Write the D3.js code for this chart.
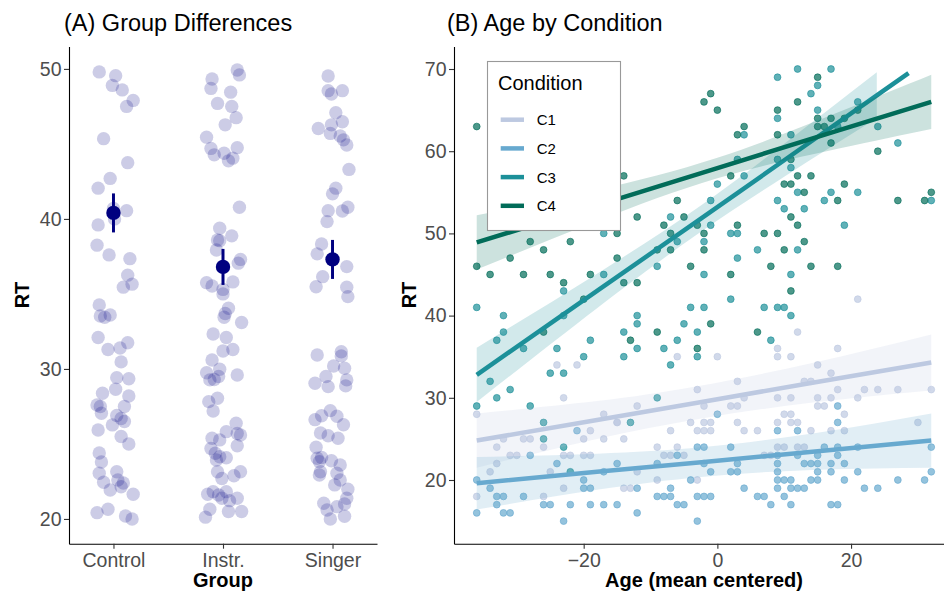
<!DOCTYPE html>
<html><head><meta charset="utf-8">
<script src="https://cdn.jsdelivr.net/npm/d3@7"></script>
<style>body{margin:0;background:#fff} text{font-family:"Liberation Sans",Arial,sans-serif}</style>
</head><body><svg id="c" width="944" height="596" xmlns="http://www.w3.org/2000/svg"></svg>
<script>
// ---------- Panel A data ----------
const groups = ["Control","Instr.","Singer"];
const jitControl = [-0.13,0.02,-0.01,0.08,0.18,0.12,-0.09,0.13,-0.03,-0.14,0.12,0.0,0.01,-0.14,-0.15,-0.04,0.15,0.13,0.17,0.09,-0.13,-0.12,-0.03,-0.08,-0.14,-0.05,0.06,0.13,0.07,0.03,0.14,0.02,0.14,-0.10,-0.15,-0.12,-0.11,0.10,0.03,0.07,0.10,-0.01,-0.14,0.07,0.14,-0.13,-0.11,-0.13,0.03,-0.09,-0.03,0.04,0.07,0.09,0.18,-0.15,-0.05,0.11,0.17];
const rtControl = [49.8,49.55,48.9,48.6,47.9,47.5,45.35,43.75,42.7,42.05,40.55,40.7,40.0,39.6,38.25,37.6,37.35,36.25,35.65,35.45,34.27,33.53,33.6,33.45,32.1,31.3,31.4,31.75,30.47,29.42,29.35,28.65,28.2,28.38,27.6,27.5,27.05,27.5,26.9,26.7,26.5,26.27,25.93,25.5,25.0,24.4,23.8,23.05,23.15,22.45,21.93,22.6,22.15,22.4,21.65,20.42,20.65,20.2,20.0];
const jitInstr = [0.13,0.15,-0.10,-0.11,0.07,-0.05,0.08,0.12,0.02,-0.15,-0.11,-0.08,0.01,0.13,0.05,0.09,0.15,-0.03,0.08,-0.05,-0.03,-0.06,0.16,0.14,-0.15,-0.10,0.09,0.0,0.0,0.05,0.02,0.01,0.17,-0.09,0.03,0.0,0.09,-0.10,-0.03,-0.15,-0.12,-0.08,-0.04,0.13,-0.13,-0.05,-0.09,0.12,0.03,0.13,0.16,-0.10,-0.03,-0.11,0.13,-0.07,-0.03,0.03,-0.06,-0.05,-0.01,0.10,0.16,-0.14,-0.09,-0.04,0.03,-0.01,0.06,0.13,-0.12,-0.16,0.05,0.17];
const rtInstr = [49.93,49.6,49.33,48.7,48.45,47.7,47.5,46.75,46.27,45.45,44.7,44.27,44.38,44.75,43.87,44.05,40.78,39.38,38.87,38.6,38.55,37.93,37.3,37.05,35.75,35.53,35.8,35.3,35.0,34.05,33.7,33.45,33.1,32.33,32.1,31.2,31.3,30.6,29.98,29.75,29.27,29.3,29.5,29.6,27.82,28.05,27.2,26.38,25.82,25.7,25.6,25.38,25.27,24.7,24.88,24.38,24.15,24.08,23.93,23.15,22.7,22.88,23.15,21.65,21.82,21.6,21.82,21.38,21.22,21.38,20.65,20.12,20.5,20.5];
const jitSinger = [-0.04,-0.04,0.09,-0.01,0.03,0.09,-0.13,-0.01,-0.02,0.07,0.10,0.13,0.15,0.03,0.0,0.14,0.09,-0.04,-0.05,-0.10,-0.14,0.13,-0.09,-0.15,0.13,0.14,-0.14,0.08,0.08,0.01,0.11,-0.06,0.13,-0.16,-0.04,0.12,-0.16,-0.10,-0.02,0.04,0.10,-0.11,-0.04,0.05,-0.15,-0.14,-0.10,-0.12,-0.01,0.07,-0.11,-0.12,0.04,0.07,0.02,0.14,0.13,0.11,-0.08,-0.05,0.04,-0.02,0.11];
const rtSinger = [49.53,48.55,48.55,48.33,47.08,46.48,46.03,46.27,45.7,45.53,45.27,44.93,43.3,42.05,41.67,40.78,40.53,40.55,39.82,38.33,37.67,36.82,36.15,35.48,35.45,34.82,30.93,31.15,30.87,30.2,30.05,29.5,29.27,29.05,28.82,28.87,26.62,26.88,27.22,26.85,26.28,25.73,25.55,25.38,24.78,24.05,24.1,23.82,23.88,23.6,23.15,22.93,23.05,22.6,22.27,21.98,21.38,21.0,21.05,20.6,20.82,20.0,20.18];
const groupMean = [40.4, 36.8, 37.3];
const groupLow  = [39.1, 35.6, 36.0];
const groupHigh = [41.7, 38.0, 38.6];
const yTicksA = [20, 30, 40, 50];

// ---------- Panel B data ----------
const conditions = ["C1","C2","C3","C4"];
const condColors = ["#bdc9e1","#67a9cf","#1c9099","#016c59"];
const c1Age = [-24,-21,-23,-36,-17,-15,-19,-20,-17,-32,-29,-28,-33,-26,-31,-30,-23,-22,-20,-19,-34,-33,-25,-36,-26,-23,
 -6,0,9,9,3,-3,-2,2,3,4,9,-12,-15,-2,-1,-4,3,-2,-3,-1,4,6,9,-14,-7,-9,-8,-7,-6,-5,7,8,-9,-12,-3,-14,-13,
 21,12,11,18,15,17,13,14,18,22,24,27,32,11,15,17,21,16,15,10,11,19,11,12,14,17,19,30,9,10,12,13];
const c1RT = [34,34,30,28,28,27,26,25,25,25,25,25,24,24,23,23,23,23,23,23,21,22,21,18,18,19,
 35,35,36,35,32,31,29,29,29,30,30,29,27,27,27,27,27,26,26,26,26,26,27,25,26,24,23,23,24,23,23,23,20,21,20,19,19,
 42,38,35,36,34,33,32,32,31,31,31,31,31,30,30,30,30,29,29,28,28,28,27,27,26,26,26,27,24,24,24,24];
const c2Age = [-36,-28,-24,-21,-20,-20,-19,-15,-17,-34,-33,-32,-33,-32,-31,-36,-29,-26,-25,-22,-19,-17,-15,-23,
 0,-9,-6,-3,-2,2,-2,-1,2,3,3,-4,9,9,9,9,9,4,-12,-7,-9,-8,-7,-6,-5,-3,-2,-1,6,7,8,-12,-3,
 18,18,12,16,18,21,32,9,12,15,18,15,13,14,17,19,17,15,21,32,10,11,14,15,19,27,31,11,12,13,22,24,10,11,17,18];
const c2RT = [20,23,22,26,20,19,19,22,21,19,18,18,17,16,16,16,18,17,17,17,17,17,17,15,
 28,22,23,24,24,24,22,21,21,21,22,20,26,22,21,20,19,19,19,19,18,18,18,17,17,18,18,18,18,18,17,16,15,
 29,27,26,24,24,24,24,23,23,23,23,22,22,22,22,22,21,21,21,21,20,20,20,20,20,20,20,19,19,19,19,19,18,17,17,17];
const c3Age = [-17,-17,-23, 9,9,4,3,9,0,4,-1,9,-7,-1,2,3,-6,-2,6,3,-9,-2,2,
 12,17,15,14,15,21,18,24,11,27,11,12,17,21,16,32,10,13,19,12,11,
 -36,-32,-32,-33,-29,-23,-24,-19,-20,-25,-23,-34,-31,-33,-36,-28,-26,-26,-23,-22,
 -12,-12,-4,-2,7,9,-14,-5,-6,-3,8,-12,-8,-3,-14,-7,-9,-13, 10,11];
const c3RT = [50,45,43, 69,64,62,59,59,56,57,54,54,52,51,50,50,49,49,48,47,46,45,42,
 70,70,68,67,65,66,63,63,62,61,58,55,55,55,54,54,53,53,51,48,45,
 41,40,38,37,36,40,36,37,35,33,33,32,31,30,29,29,27,25,24,21,
 40,39,41,41,41,41,38,39,37,38,37,36,36,35,35,34,30,27, 41,40];
const c4Age = [-36,-15,-28,-22,-31,-26,-15,-36,-34,-29,-25,-23,-19,-20,
 -1,-2,0,9,3,4,9,-14,2,-6,-12,-5,-3,-8,3,-2,7,9,-7,-9,-7,-2,-4,2,8,-14,-12,
 15,12,21,15,17,19,15,16,17,24,11,12,14,10,11,19,13,18,27,31,32,11,12,13,10,14,18,11,
 -26,-13,-9,-1,6,-3];
const c4RT = [63,50,49,49,47,48,47,46,45,45,45,44,45,42,
 67,66,65,65,62,63,62,57,57,54,52,52,51,51,51,50,50,50,50,48,48,48,46,45,46,44,44,
 69,66,65,64,64,64,63,63,61,60,59,57,57,56,56,56,55,54,54,54,55,52,51,49,48,46,46,43,
 38,37,38,39,38,36];

// fitted lm lines and 95% bands
const c1FitX = [-36,-18,-3,14,32];   const c1Fit = [24.8,27.3,29.4,31.8,34.3];
const c1Low = [21.5,25.0,27.4,29.4,30.9]; const c1High = [28.1,29.6,31.4,34.2,37.7];
const c2FitX = [-36,-18,-2,15,32];   const c2Fit = [19.6,21.0,22.2,23.5,24.8];
const c2Low = [16.4,18.8,20.4,21.25,21.5]; const c2High = [22.8,23.2,24.0,25.75,28.1];
const c3FitX = [-36,-18,-3,10,23.85,28.6]; const c3Fit = [32.8,43.0,51.5,58.9,66.8,69.5];
const c3Low = [29.5,40.9,49.9,56.9,64.0,null]; const c3High = [36.1,45.1,53.1,60.9,69.6,null];
const c4FitX = [-36,-18,0,18,32];    const c4Fit = [48.9,53.4,57.95,62.5,66.0];
const c4Low = [45.6,51.5,56.7,60.3,62.7]; const c4High = [52.2,55.3,59.2,64.7,69.3];
const yTicksB = [20,30,40,50,60,70];
const xTicksB = [-20,0,20];

// ---------- drawing ----------
const svg = d3.select("#c");
const TXT = "#4d4d4d";

function styleAxis(g){
  g.attr("font-family","'Liberation Sans',Arial,sans-serif").attr("font-size",19.5);
  g.select(".domain").attr("stroke","#000").attr("stroke-width",1.1);
  g.selectAll(".tick line").attr("stroke","#333").attr("stroke-width",1.1);
  g.selectAll(".tick text").attr("fill",TXT);
}

// Panel A
const xA = d3.scaleLinear().domain([0.594, 3.406]).range([69, 377]);
const yA = d3.scaleLinear().domain([18.35, 51.5]).range([543.7, 46.4]);
const gA = svg.append("g");
const groupSets = [[jitControl, rtControl],[jitInstr, rtInstr],[jitSinger, rtSinger]];
groupSets.forEach((s,i)=>{
  gA.append("g").selectAll("circle").data(s[1]).join("circle")
    .attr("cx",(v,j)=>xA(i+1+s[0][j])).attr("cy",v=>yA(v)).attr("r",6.7)
    .attr("fill","navy").attr("fill-opacity",0.2);
});
groups.forEach((g,i)=>{
  gA.append("line").attr("x1",xA(i+1)).attr("x2",xA(i+1))
    .attr("y1",yA(groupLow[i])).attr("y2",yA(groupHigh[i]))
    .attr("stroke","navy").attr("stroke-width",3);
  gA.append("circle").attr("cx",xA(i+1)).attr("cy",yA(groupMean[i])).attr("r",7.2).attr("fill","navy");
});
const axAx = gA.append("g").attr("transform","translate(0,543.7)")
  .call(d3.axisBottom(xA).tickValues([1,2,3]).tickFormat(d=>groups[d-1]).tickSize(5).tickPadding(4.5).tickSizeOuter(0));
styleAxis(axAx);
const axAy = gA.append("g").attr("transform","translate(69,0)")
  .call(d3.axisLeft(yA).tickValues(yTicksA).tickSize(5).tickPadding(2.5).tickSizeOuter(0));
styleAxis(axAy);

// Panel B
const xB = d3.scaleLinear().domain([-39.4, 35.4]).range([454, 954]);
const yB = d3.scaleLinear().domain([12.25, 72.75]).range([543.7, 46.4]);
const gB = svg.append("g");
const condSets = [[c1Age,c1RT],[c2Age,c2RT],[c3Age,c3RT],[c4Age,c4RT]];
condSets.forEach((s,i)=>{
  gB.append("g").selectAll("circle").data(s[1]).join("circle")
    .attr("cx",(v,j)=>xB(s[0][j])).attr("cy",v=>yB(v)).attr("r",3.4)
    .attr("fill",condColors[i]).attr("fill-opacity",0.7)
    .attr("stroke",condColors[i]).attr("stroke-opacity",0.7).attr("stroke-width",0.9);
});
const fits = [[c1FitX,c1Fit,c1Low,c1High],[c2FitX,c2Fit,c2Low,c2High],[c3FitX,c3Fit,c3Low,c3High],[c4FitX,c4Fit,c4Low,c4High]];
fits.forEach((f,i)=>{
  const idx = f[0].map((_,k)=>k);
  const area = d3.area().defined(k=>f[2][k]!==null)
    .x(k=>xB(f[0][k])).y0(k=>yB(f[2][k])).y1(k=>yB(f[3][k])).curve(d3.curveNatural);
  gB.append("path").attr("d",area(idx)).attr("fill",condColors[i]).attr("fill-opacity",0.2);
  const line = d3.line().x(k=>xB(f[0][k])).y(k=>yB(f[1][k]));
  gB.append("path").attr("d",line(idx)).attr("fill","none").attr("stroke",condColors[i]).attr("stroke-width",4.5);
});
const axBx = gB.append("g").attr("transform","translate(0,543.7)")
  .call(d3.axisBottom(xB).tickValues(xTicksB).tickSize(5).tickPadding(4.5).tickSizeOuter(0));
styleAxis(axBx);
const axBy = gB.append("g").attr("transform","translate(454,0)")
  .call(d3.axisLeft(yB).tickValues(yTicksB).tickSize(5).tickPadding(2.5).tickSizeOuter(0));
styleAxis(axBy);

// Titles
svg.append("text").attr("x",64).attr("y",31).attr("font-size",23.5).attr("fill","#000").text("(A) Group Differences");
svg.append("text").attr("x",447).attr("y",31).attr("font-size",23.5).attr("fill","#000").text("(B) Age by Condition");
// axis titles
svg.append("text").attr("x",223).attr("y",587).attr("text-anchor","middle").attr("font-size",20).attr("font-weight","bold").text("Group");
svg.append("text").attr("x",704).attr("y",587).attr("text-anchor","middle").attr("font-size",20).attr("font-weight","bold").text("Age (mean centered)");
svg.append("text").attr("transform","translate(29,295) rotate(-90)").attr("text-anchor","middle").attr("font-size",20).attr("font-weight","bold").text("RT");
svg.append("text").attr("transform","translate(416,295) rotate(-90)").attr("text-anchor","middle").attr("font-size",20).attr("font-weight","bold").text("RT");

// Legend
const lg = svg.append("g");
lg.append("rect").attr("x",487.5).attr("y",61.5).attr("width",133).attr("height",169)
  .attr("fill","#fff").attr("stroke","#999").attr("stroke-width",1.1);
lg.append("text").attr("x",498).attr("y",90).attr("font-size",20).text("Condition");
conditions.forEach((c,i)=>{
  const yy = 119.7 + i*28.7;
  lg.append("line").attr("x1",500.7).attr("x2",524).attr("y1",yy).attr("y2",yy)
    .attr("stroke",condColors[i]).attr("stroke-width",4.5);
  lg.append("text").attr("x",536.7).attr("y",yy+5.5).attr("font-size",15).text(c);
});
</script></body></html>
